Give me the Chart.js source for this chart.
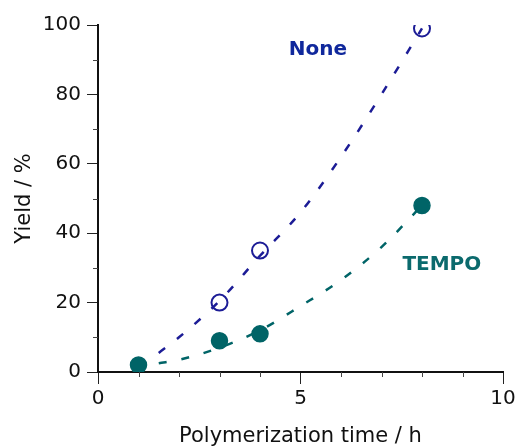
<!DOCTYPE html>
<html>
<head>
<meta charset="utf-8">
<script src="https://cdn.jsdelivr.net/npm/chart.js@4.4.1/dist/chart.umd.min.js"></script>
<style>
  html, body { margin: 0; padding: 0; background: #fff; }
  #wrap { width: 519px; height: 448px; }
</style>
</head>
<body>
<div id="wrap"><canvas id="yieldChart"></canvas></div>
<script>
// --- Data ---
const noneTime = [3, 4, 8];
const noneYield = [20, 35, 99];
const tempoTime = [1, 3, 4, 8];
const tempoYield = [2, 9, 11, 48];

// dashed guide curves
const noneFitTime = [1.5, 2, 3, 4, 5, 6, 7, 8];
const noneFitYield = [5.5, 10, 20.5, 33.5, 46, 62, 80, 99];
const tempoFitTime = [1.5, 2, 3, 4, 5, 6, 7, 8];
const tempoFitYield = [2.5, 3.5, 7, 12, 19, 26.5, 36, 48];

const NAVY = '#1c1c96';
const TEAL = '#006467';
const FONT = 'DejaVu Sans';
const INK = '#111';

const toPoints = (xs, ys) => xs.map((x, i) => ({ x, y: ys[i] }));

// minor tick marks (Chart.js has no minor ticks of its own)
const minorTicks = {
  id: 'minorTicks',
  afterDraw(chart) {
    const { ctx, scales: { x, y } } = chart;
    ctx.save();
    ctx.strokeStyle = '#444';
    ctx.lineWidth = 1;
    ctx.beginPath();
    for (let v = 10; v < 100; v += 20) {
      const py = Math.round(y.getPixelForValue(v)) + 0.5;
      ctx.moveTo(x.left - 5, py);
      ctx.lineTo(x.left, py);
    }
    for (let v = 1; v < 10; v++) {
      if (v % 5 === 0) continue;
      const px = Math.round(x.getPixelForValue(v)) + 0.5;
      ctx.moveTo(px, y.bottom);
      ctx.lineTo(px, y.bottom + 5);
    }
    ctx.stroke();
    ctx.restore();
  }
};

// series names written next to the curves
const seriesLabels = {
  id: 'seriesLabels',
  afterDatasetsDraw(chart) {
    const { ctx, scales: { x, y } } = chart;
    ctx.save();
    ctx.font = 'bold 20px "' + FONT + '"';
    ctx.textAlign = 'center';
    ctx.textBaseline = 'middle';
    ctx.fillStyle = '#10289c';
    ctx.fillText('None', x.getPixelForValue(5.43), y.getPixelForValue(92.8));
    ctx.fillStyle = '#0b6a6d';
    ctx.fillText('TEMPO', x.getPixelForValue(8.49), y.getPixelForValue(31));
    ctx.restore();
  }
};

new Chart(document.getElementById('yieldChart'), {
  type: 'scatter',
  data: {
    datasets: [
      {
        label: 'None fit',
        type: 'line',
        data: toPoints(noneFitTime, noneFitYield),
        borderColor: NAVY,
        borderWidth: 2.5,
        borderDash: [8, 15],
        pointRadius: 0,
        fill: false,
        cubicInterpolationMode: 'monotone',
      },
      {
        label: 'TEMPO fit',
        type: 'line',
        data: toPoints(tempoFitTime, tempoFitYield),
        borderColor: TEAL,
        borderWidth: 2.5,
        borderDash: [8, 15],
        pointRadius: 0,
        fill: false,
        cubicInterpolationMode: 'monotone',
      },
      {
        label: 'None',
        data: toPoints(noneTime, noneYield),
        pointRadius: 8,
        pointBorderWidth: 2,
        pointBackgroundColor: 'rgba(0,0,0,0)',
        pointBorderColor: NAVY,
      },
      {
        label: 'TEMPO',
        data: toPoints(tempoTime, tempoYield),
        pointRadius: 8,
        pointBorderWidth: 1.5,
        pointBackgroundColor: TEAL,
        pointBorderColor: TEAL,
      },
    ],
  },
  options: {
    responsive: true,
    maintainAspectRatio: false,
    animation: false,
    layout: { padding: { top: 25, right: 16, left: 0, bottom: 0 } },
    plugins: {
      legend: { display: false },
      tooltip: { enabled: false },
    },
    scales: {
      x: {
        type: 'linear',
        min: 0,
        max: 10,
        afterFit: (scale) => { scale.height = 76; },
        border: { display: true, color: '#111', width: 2 },
        grid: {
          drawOnChartArea: false,
          drawTicks: true,
          tickLength: 12,
          tickWidth: 1,
          tickColor: (c) => (c.tick && c.tick.value % 5 === 0 ? '#222' : 'rgba(0,0,0,0)'),
        },
        ticks: {
          stepSize: 1,
          autoSkip: false,
          maxRotation: 0,
          padding: 3,
          color: INK,
          font: { family: FONT, size: 20 },
          callback: (v) => (v % 5 === 0 ? v : ''),
        },
        title: {
          display: true,
          text: 'Polymerization time / h',
          color: INK,
          font: { family: FONT, size: 21, lineHeight: 1 },
          padding: { top: 0, bottom: 1 },
        },
      },
      y: {
        type: 'linear',
        min: 0,
        max: 100,
        afterFit: (scale) => { scale.width = 98; },
        border: { display: true, color: '#111', width: 2 },
        grid: {
          drawOnChartArea: false,
          drawTicks: true,
          tickLength: 11,
          tickWidth: 1,
          tickColor: (c) => (c.tick && c.tick.value % 20 === 0 ? '#222' : 'rgba(0,0,0,0)'),
        },
        ticks: {
          stepSize: 10,
          autoSkip: false,
          padding: 6,
          color: INK,
          font: { family: FONT, size: 20 },
          callback: (v) => (v % 20 === 0 ? v : ''),
        },
        title: {
          display: true,
          text: 'Yield / %',
          color: INK,
          font: { family: FONT, size: 21, lineHeight: 1 },
          padding: { top: 14, bottom: 0 },
        },
      },
    },
  },
  plugins: [minorTicks, seriesLabels],
});
</script>
</body>
</html>
